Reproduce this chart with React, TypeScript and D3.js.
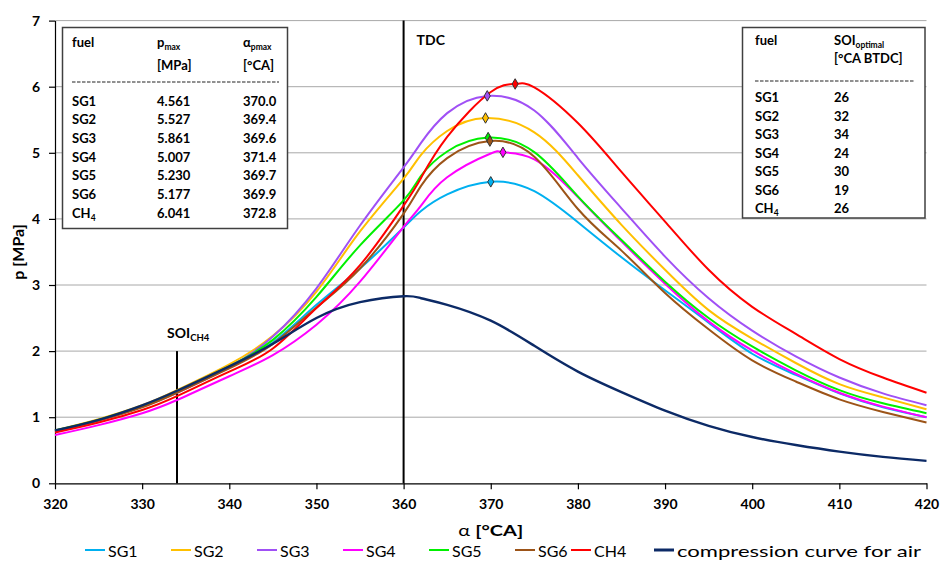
import { useEffect, useRef } from 'react';
import * as d3 from 'd3';

// crank angle samples [°CA]
const angles = [320, 325, 330, 334, 340, 345, 350, 355, 360, 362, 365, 370, 375, 380, 385, 390, 395, 400, 405, 410, 415, 420];

// cylinder pressure [MPa] at the angles above
const sg1 = [0.80, 0.95, 1.16, 1.38, 1.75, 2.13, 2.70, 3.25, 3.87, 4.12, 4.37, 4.56, 4.42, 3.95, 3.42, 2.92, 2.43, 1.96, 1.64, 1.36, 1.15, 1.00];
const sg2 = [0.80, 0.97, 1.18, 1.41, 1.80, 2.23, 2.90, 3.81, 4.61, 4.97, 5.33, 5.52, 5.31, 4.66, 3.91, 3.23, 2.62, 2.19, 1.82, 1.50, 1.30, 1.12];
const sg3 = [0.79, 0.95, 1.16, 1.37, 1.76, 2.22, 2.95, 3.90, 4.78, 5.15, 5.60, 5.855, 5.64, 4.92, 4.16, 3.43, 2.80, 2.31, 1.92, 1.60, 1.36, 1.18];
const sg4 = [0.73, 0.88, 1.06, 1.26, 1.62, 1.94, 2.40, 3.05, 3.88, 4.20, 4.63, 4.99, 4.90, 4.33, 3.66, 3.02, 2.45, 2.01, 1.66, 1.37, 1.16, 1.00];
const sg5 = [0.80, 0.96, 1.17, 1.39, 1.77, 2.17, 2.82, 3.60, 4.28, 4.65, 5.02, 5.228, 5.01, 4.34, 3.68, 3.05, 2.50, 2.07, 1.71, 1.41, 1.21, 1.06];
const sg6 = [0.79, 0.95, 1.15, 1.37, 1.74, 2.11, 2.66, 3.25, 4.08, 4.50, 4.92, 5.176, 4.94, 4.15, 3.52, 2.88, 2.33, 1.86, 1.54, 1.27, 1.08, 0.92];
const ch4 = [0.77, 0.92, 1.11, 1.32, 1.69, 2.04, 2.65, 3.30, 4.20, 4.62, 5.24, 5.92, 5.99, 5.45, 4.71, 3.96, 3.23, 2.67, 2.26, 1.88, 1.60, 1.37];
const air = [0.80, 0.96, 1.18, 1.40, 1.77, 2.11, 2.50, 2.74, 2.83, 2.80, 2.70, 2.46, 2.08, 1.69, 1.38, 1.10, 0.87, 0.70, 0.58, 0.48, 0.40, 0.34];

const fuels = ['SG1', 'SG2', 'SG3', 'SG4', 'SG5', 'SG6', 'CH4'];
const pMax = [4.561, 5.527, 5.861, 5.007, 5.230, 5.177, 6.041];
const alphaPmax = [370.0, 369.4, 369.6, 371.4, 369.7, 369.9, 372.8];
const soiOptimal = [26, 32, 34, 24, 30, 19, 26];

const xTicks = [320, 330, 340, 350, 360, 370, 380, 390, 400, 410, 420];
const yTicks = [0, 1, 2, 3, 4, 5, 6, 7];

const colors = ['#00b0f0', '#ffc000', '#a050f5', '#ff00ff', '#00f000', '#9c5418', '#ff0000', '#0c2a66'];

const FONT = 'Lato, "Open Sans", sans-serif';

export default function App() {
  const svgRef = useRef<SVGSVGElement>(null);

  useEffect(() => {
    const width = 940;
    const height = 563;
    const margin = { top: 20.6, right: 13.5, bottom: 79.7, left: 55 };
    const innerW = width - margin.left - margin.right;
    const innerH = height - margin.top - margin.bottom;

    const svg = d3.select(svgRef.current);
    svg.selectAll('*').remove();
    svg.attr('width', width).attr('height', height).style('font-family', FONT);

    svg.append('rect').attr('width', width).attr('height', height).attr('fill', '#fff');

    const g = svg.append('g').attr('transform', `translate(${margin.left},${margin.top})`);

    const x = d3.scaleLinear().domain([320, 420]).range([0, innerW]);
    const y = d3.scaleLinear().domain([0, 7]).range([innerH, 0]);

    // grid
    g.append('g')
      .selectAll('line')
      .data(yTicks.filter(t => t > 0))
      .join('line')
      .attr('x1', 0).attr('x2', innerW)
      .attr('y1', d => y(d)).attr('y2', d => y(d))
      .attr('stroke', '#a8a8a8')
      .attr('stroke-width', 1);

    // axes
    const xAxis = g.append('g')
      .attr('transform', `translate(0,${innerH})`)
      .call(d3.axisBottom(x).tickValues(xTicks).tickSize(6).tickSizeOuter(0).tickPadding(10));
    const yAxis = g.append('g')
      .call(d3.axisLeft(y).tickValues(yTicks).tickFormat(d3.format('d')).tickSize(6).tickSizeOuter(0).tickPadding(9));
    [xAxis, yAxis].forEach(a => {
      a.select('.domain').attr('stroke', '#000').attr('stroke-width', 1.2);
      a.selectAll('.tick line').attr('stroke', '#000').attr('stroke-width', 1.2);
      a.selectAll('text')
        .attr('fill', '#000')
        .attr('font-size', '14px')
        .attr('font-weight', 'bold')
        .attr('font-family', FONT);
    });

    // TDC and SOI markers
    g.append('line')
      .attr('x1', x(360)).attr('x2', x(360))
      .attr('y1', y(7)).attr('y2', innerH)
      .attr('stroke', '#000').attr('stroke-width', 2);
    g.append('text')
      .attr('x', x(360) + 13).attr('y', 45 - margin.top)
      .attr('font-size', '14px').attr('font-weight', 'bold')
      .text('TDC');

    const soiCh4 = 360 - soiOptimal[6];
    g.append('line')
      .attr('x1', x(soiCh4)).attr('x2', x(soiCh4))
      .attr('y1', y(2)).attr('y2', innerH)
      .attr('stroke', '#000').attr('stroke-width', 2);
    const soiText = g.append('text')
      .attr('x', x(soiCh4) - 10).attr('y', 338 - margin.top)
      .attr('font-size', '14px').attr('font-weight', 'bold');
    soiText.append('tspan').text('SOI');
    soiText.append('tspan').attr('font-size', '9.5px').attr('dy', 3).text('CH4');

    // curves
    const allSeries = [sg1, sg2, sg3, sg4, sg5, sg6, ch4, air];
    const line = d3.line<[number, number]>()
      .x(d => x(d[0]))
      .y(d => y(d[1]))
      .curve(d3.curveNatural);

    allSeries.forEach((vals, i) => {
      let pts: [number, number][] = angles.map((a, j) => [a, vals[j]]);
      if (i < fuels.length) {
        pts = pts.filter(p => Math.abs(p[0] - alphaPmax[i]) >= 1);
        pts.push([alphaPmax[i], pMax[i]]);
        pts.sort((a, b) => a[0] - b[0]);
      }
      g.append('path')
        .datum(pts)
        .attr('fill', 'none')
        .attr('stroke', colors[i])
        .attr('stroke-width', i === 7 ? 2.4 : 2)
        .attr('d', line);
    });

    // peak markers
    const diamond = d3.symbol().type(d3.symbolDiamond).size(32);
    fuels.forEach((f, i) => {
      g.append('path')
        .attr('d', diamond)
        .attr('transform', `translate(${x(alphaPmax[i])},${y(pMax[i])})`)
        .attr('fill', colors[i])
        .attr('stroke', '#333')
        .attr('stroke-width', 1);
    });

    // axis titles
    const xt = svg.append('text')
      .attr('transform', `translate(${margin.left + innerW / 2},536) scale(1.25,1)`)
      .attr('text-anchor', 'middle')
      .attr('font-size', '16px').attr('font-weight', 'bold');
    xt.append('tspan').attr('font-weight', 'normal').text('α ');
    xt.append('tspan').text('[°CA]');

    svg.append('text')
      .attr('transform', 'translate(24,252) rotate(-90)')
      .attr('text-anchor', 'middle')
      .attr('font-size', '16px').attr('font-weight', 'bold')
      .text('p [MPa]');

    // legend
    const legendNames = [...fuels, 'compression curve for air'];
    const legendX = [85, 171, 257, 343, 429, 515, 571, 654];
    legendNames.forEach((name, i) => {
      const lg = svg.append('g').attr('transform', `translate(${legendX[i]},550)`);
      lg.append('line')
        .attr('x1', 0).attr('x2', 20).attr('y1', 0).attr('y2', 0)
        .attr('stroke', colors[i]).attr('stroke-width', i === 7 ? 3 : 2);
      const t = lg.append('text')
        .attr('x', 23).attr('y', 6.5)
        .attr('font-size', '16px')
        .text(name);
      if (i === 7) t.attr('textLength', 244).attr('lengthAdjust', 'spacingAndGlyphs');
    });

    // left table: peak pressure
    const lt = svg.append('g');
    lt.append('rect')
      .attr('x', 62.5).attr('y', 27.5).attr('width', 225).attr('height', 201)
      .attr('fill', '#fff').attr('stroke', '#404040').attr('stroke-width', 1.5);
    const cell = (parent: any, xx: number, yy: number, txt: string, sub?: string) => {
      const t = parent.append('text')
        .attr('x', xx).attr('y', yy)
        .attr('font-size', '13px').attr('font-weight', 'bold');
      t.append('tspan').text(txt);
      if (sub) t.append('tspan').attr('font-size', '8.5px').attr('dy', 3).text(sub);
      return t;
    };
    cell(lt, 72, 47, 'fuel');
    cell(lt, 157, 47, 'p', 'max');
    cell(lt, 157, 70, '[MPa]');
    cell(lt, 243, 47, 'α', 'pmax');
    cell(lt, 243, 70, '[°CA]');
    lt.append('line')
      .attr('x1', 72).attr('x2', 279).attr('y1', 82).attr('y2', 82)
      .attr('stroke', '#222').attr('stroke-width', 1.2).attr('stroke-dasharray', '3.5,1.5');
    fuels.forEach((f, i) => {
      const yy = 105.7 + i * 18.67;
      if (f === 'CH4') cell(lt, 72, yy, 'CH', '4');
      else cell(lt, 72, yy, f);
      cell(lt, 157, yy, pMax[i].toFixed(3));
      cell(lt, 243, yy, alphaPmax[i].toFixed(1));
    });

    // right table: optimal SOI
    const rt = svg.append('g');
    rt.append('rect')
      .attr('x', 742.5).attr('y', 27.5).attr('width', 182.5).attr('height', 190.5)
      .attr('fill', '#fff').attr('stroke', '#404040').attr('stroke-width', 1.5);
    cell(rt, 755, 45, 'fuel');
    cell(rt, 834, 45, 'SOI', 'optimal');
    cell(rt, 834, 63, '[°CA BTDC]');
    rt.append('line')
      .attr('x1', 755).attr('x2', 915).attr('y1', 81).attr('y2', 81)
      .attr('stroke', '#222').attr('stroke-width', 1.2).attr('stroke-dasharray', '3.5,1.5');
    fuels.forEach((f, i) => {
      const yy = 102.3 + i * 18.5;
      if (f === 'CH4') cell(rt, 755, yy, 'CH', '4');
      else cell(rt, 755, yy, f);
      cell(rt, 834, yy, String(soiOptimal[i]));
    });
  }, []);

  return (
    <div style={{ position: 'absolute', left: 0, top: 0 }}>
      <svg ref={svgRef}></svg>
    </div>
  );
}
